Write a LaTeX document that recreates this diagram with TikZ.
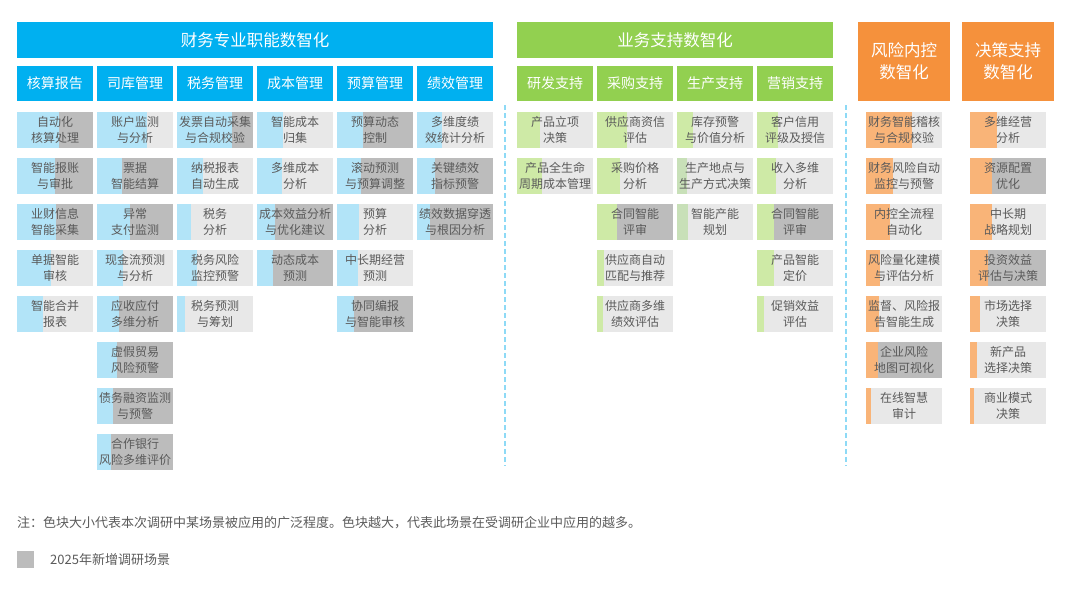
\documentclass[tikz,border=0pt]{standalone}
\usepackage{fontspec}
\setmainfont{Noto Sans CJK SC}
\definecolor{hb}{RGB}{0,176,240}
\definecolor{hg}{RGB}{146,208,80}
\definecolor{ho}{RGB}{245,145,60}
\definecolor{lb}{RGB}{178,228,248}
\definecolor{lg}{RGB}{206,234,166}
\definecolor{lg2}{RGB}{200,224,184}
\definecolor{lo}{RGB}{249,180,120}
\definecolor{bg}{RGB}{232,232,232}
\definecolor{ng}{RGB}{188,188,188}
\definecolor{tx}{RGB}{90,90,90}
\tikzset{celltext/.style={text=tx,align=center,font=\fontsize{12}{15.5}\selectfont,inner sep=0pt},
 head/.style={text=white,font=\fontsize{16.5}{22}\selectfont,align=center,inner sep=0pt},
 sub/.style={text=white,font=\fontsize{14}{18}\selectfont,inner sep=0pt}}
\newcommand\mycell[7]{\fill[#2] (#3,#4) rectangle ++(76,36); \fill[#1] (#3,#4) rectangle ++(#5,36); \node[celltext] (#7) at (#3+38,#4+18) {#6};}
\newcommand\mysub[4]{\fill[#1] (#2,66) rectangle ++(76,35); \node[sub] (#4) at (#2+38,83.5) {#3};}
\begin{document}
\begin{tikzpicture}[x=1pt,y=-1pt]
\useasboundingbox (0,0) rectangle (1080,590);
% headers
\fill[hb] (17,22) rectangle (493,58); \node[head] (h1) at (255,40) {财务专业职能数智化};
\fill[hg] (517,22) rectangle (833,58); \node[head] (h2) at (675,40) {业务支持数智化};
\fill[ho] (858,22) rectangle (950,101); \node[head] (h3) at (904,61.5) {风险内控\\数智化};
\fill[ho] (962,22) rectangle (1054,101); \node[head] (h4) at (1008,61.5) {决策支持\\数智化};
\mysub{hb}{17}{核算报告}{s1}\mysub{hb}{97}{司库管理}{s2}\mysub{hb}{177}{税务管理}{s3}
\mysub{hb}{257}{成本管理}{s4}\mysub{hb}{337}{预算管理}{s5}\mysub{hb}{417}{绩效管理}{s6}
\mysub{hg}{517}{研发支持}{s7}\mysub{hg}{597}{采购支持}{s8}\mysub{hg}{677}{生产支持}{s9}\mysub{hg}{757}{营销支持}{s10}
% dashed separators
\draw[lb!80!hb,dashed,line width=1.2pt,dash pattern=on 5pt off 3pt] (505,105) -- (505,466);
\draw[lb!80!hb,dashed,line width=1.2pt,dash pattern=on 5pt off 3pt] (846,105) -- (846,466);
% finance
\mycell{lb}{ng}{17}{112}{42}{自动化\\核算处理}{a1}
\mycell{lb}{ng}{17}{158}{38}{智能报账\\与审批}{a2}
\mycell{lb}{ng}{17}{204}{39}{业财信息\\智能采集}{a3}
\mycell{lb}{bg}{17}{250}{34}{单据智能\\审核}{a4}
\mycell{lb}{bg}{17}{296}{26}{智能合并\\报表}{a5}
\mycell{lb}{bg}{97}{112}{50}{账户监测\\与分析}{b1}
\mycell{lb}{ng}{97}{158}{25}{票据\\智能结算}{b2}
\mycell{lb}{ng}{97}{204}{33}{异常\\支付监测}{b3}
\mycell{lb}{bg}{97}{250}{26}{现金流预测\\与分析}{b4}
\mycell{lb}{ng}{97}{296}{22}{应收应付\\多维分析}{b5}
\mycell{lb}{ng}{97}{342}{20}{虚假贸易\\风险预警}{b6}
\mycell{lb}{ng}{97}{388}{16}{债务融资监测\\与预警}{b7}
\mycell{lb}{ng}{97}{434}{14}{合作银行\\风险多维评价}{b8}
\mycell{lb}{ng}{177}{112}{55}{发票自动采集\\与合规校验}{c1}
\mycell{lb}{bg}{177}{158}{26}{纳税报表\\自动生成}{c2}
\mycell{lb}{bg}{177}{204}{14}{税务\\分析}{c3}
\mycell{lb}{bg}{177}{250}{20}{税务风险\\监控预警}{c4}
\mycell{lb}{bg}{177}{296}{8}{税务预测\\与筹划}{c5}
\mycell{lb}{bg}{257}{112}{26}{智能成本\\归集}{d1}
\mycell{lb}{bg}{257}{158}{25}{多维成本\\分析}{d2}
\mycell{lb}{ng}{257}{204}{18}{成本效益分析\\与优化建议}{d3}
\mycell{lb}{ng}{257}{250}{16}{动态成本\\预测}{d4}
\mycell{lb}{ng}{337}{112}{26}{预算动态\\控制}{e1}
\mycell{lb}{ng}{337}{158}{24}{滚动预测\\与预算调整}{e2}
\mycell{lb}{bg}{337}{204}{22}{预算\\分析}{e3}
\mycell{lb}{bg}{337}{250}{21}{中长期经营\\预测}{e4}
\mycell{lb}{ng}{337}{296}{17}{协同编报\\与智能审核}{e5}
\mycell{lb}{bg}{417}{112}{25}{多维度绩\\效统计分析}{f1}
\mycell{lb}{ng}{417}{158}{18}{关键绩效\\指标预警}{f2}
\mycell{lb}{ng}{417}{204}{13}{绩效数据穿透\\与根因分析}{f3}
% business
\mycell{lg}{bg}{517}{112}{23}{产品立项\\决策}{g1}
\mycell{lg}{bg}{517}{158}{25}{产品全生命\\周期成本管理}{g2}
\mycell{lg}{bg}{597}{112}{30}{供应商资信\\评估}{i1}
\mycell{lg}{bg}{597}{158}{23}{采购价格\\分析}{i2}
\mycell{lg}{ng}{597}{204}{20}{合同智能\\评审}{i3}
\mycell{lg}{bg}{597}{250}{7}{供应商自动\\匹配与推荐}{i4}
\mycell{lg}{bg}{597}{296}{6}{供应商多维\\绩效评估}{i5}
\mycell{lg}{bg}{677}{112}{16}{库存预警\\与价值分析}{j1}
\mycell{lg2}{bg}{677}{158}{10}{生产地点与\\生产方式决策}{j2}
\mycell{lg2}{bg}{677}{204}{11}{智能产能\\规划}{j3}
\mycell{lg}{bg}{757}{112}{21}{客户信用\\评级及授信}{k1}
\mycell{lg}{bg}{757}{158}{19}{收入多维\\分析}{k2}
\mycell{lg}{ng}{757}{204}{17}{合同智能\\评审}{k3}
\mycell{lg}{bg}{757}{250}{17}{产品智能\\定价}{k4}
\mycell{lg}{bg}{757}{296}{7}{促销效益\\评估}{k5}
% risk
\mycell{lo}{bg}{866}{112}{46}{财务智能稽核\\与合规校验}{r1}
\mycell{lo}{bg}{866}{158}{27}{财务风险自动\\监控与预警}{r2}
\mycell{lo}{bg}{866}{204}{24}{内控全流程\\自动化}{r3}
\mycell{lo}{bg}{866}{250}{14}{风险量化建模\\与评估分析}{r4}
\mycell{lo}{bg}{866}{296}{13}{监督、风险报\\告智能生成}{r5}
\mycell{lo}{ng}{866}{342}{12}{企业风险\\地图可视化}{r6}
\mycell{lo}{bg}{866}{388}{5}{在线智慧\\审计}{r7}
% decision
\mycell{lo}{bg}{970}{112}{27}{多维经营\\分析}{t1}
\mycell{lo}{ng}{970}{158}{22}{资源配置\\优化}{t2}
\mycell{lo}{bg}{970}{204}{22}{中长期\\战略规划}{t3}
\mycell{lo}{ng}{970}{250}{18}{投资效益\\评估与决策}{t4}
\mycell{lo}{bg}{970}{296}{10}{市场选择\\决策}{t5}
\mycell{lo}{bg}{970}{342}{7}{新产品\\选择决策}{t6}
\mycell{lo}{bg}{970}{388}{4}{商业模式\\决策}{t7}
% notes
\node[text=tx,anchor=west,font=\fontsize{13}{16}\selectfont,inner sep=0pt] (note) at (17,523) {注：色块大小代表本次调研中某场景被应用的广泛程度。色块越大，代表此场景在受调研企业中应用的越多。};
\fill[ng] (17,551) rectangle (34,568);
\node[text=tx,anchor=west,font=\fontsize{13}{16}\selectfont,inner sep=0pt] (leg) at (50,559.5) {2025年新增调研场景};
\end{tikzpicture}
\end{document}
